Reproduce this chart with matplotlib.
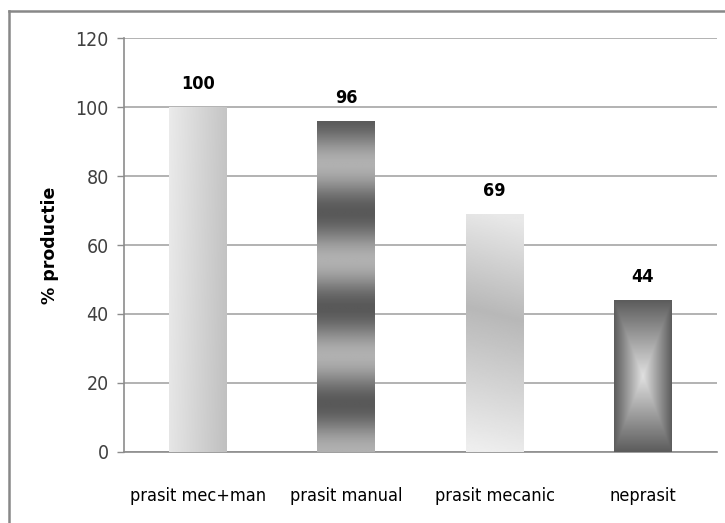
import numpy as np
import matplotlib
matplotlib.use("Agg")
import matplotlib.pyplot as plt
from matplotlib import font_manager
from matplotlib.lines import Line2D

# data
categories = ["prasit mec+man", "prasit manual", "prasit mecanic", "neprasit"]
values = [100, 96, 69, 44]
yticks = [0, 20, 40, 60, 80, 100, 120]

# narrow font similar to Calibri if installed
names = {f.name for f in font_manager.fontManager.ttflist}
narrow = "Liberation Sans Narrow" if "Liberation Sans Narrow" in names else "DejaVu Sans"
stretch = "normal" if narrow == "Liberation Sans Narrow" else "condensed"

fig = plt.figure(figsize=(7.25, 5.23), dpi=100)
ax = fig.add_axes([0.171, 0.136, 0.818, 0.791])

x = np.arange(len(categories))
bars = ax.bar(x, values, width=0.39, color="none", edgecolor="none", zorder=3)


def grad_mecman(n=200):
    u = np.linspace(0, 1, n)[None, :]
    v = np.linspace(0, 1, n)[:, None]   # row 0 = bottom (origin lower)
    return 0.90 - 0.15 * u + 0.02 * v


def grad_manual(n=400):
    v = np.linspace(0, 1, n)[:, None]
    g = 0.52 + 0.17 * np.cos(2 * np.pi * v / 0.29)
    return np.repeat(g, 20, axis=1)


def grad_mecanic(n=300):
    v = np.linspace(0, 1, n)[:, None]
    u = np.linspace(0, 1, 60)[None, :]
    pos = v + 0.06 * (u - 0.5)
    g = np.interp(pos, [0.0, 0.58, 1.0], [0.93, 0.72, 0.91])
    return g


def grad_neprasit(n=300):
    u = np.abs(np.linspace(-1, 1, n))[None, :]
    v = np.abs(np.linspace(-1, 1, n))[:, None]
    d = np.maximum(u, v)
    return 0.88 - 0.52 * d


grads = [grad_mecman(), grad_manual(), grad_mecanic(), grad_neprasit()]
for bar, g in zip(bars, grads):
    x0, w, h = bar.get_x(), bar.get_width(), bar.get_height()
    im = ax.imshow(g, extent=[x0, x0 + w, 0, h], origin="lower", cmap="gray",
                   vmin=0, vmax=1, aspect="auto", interpolation="bilinear", zorder=3)
    im.set_clip_path(bar)

for xi, v in zip(x, values):
    ax.annotate(str(v), (xi, v), xytext=(0, 10), textcoords="offset points",
                ha="center", va="bottom", fontsize=13, fontweight="bold",
                family=narrow, fontstretch=stretch, color="black")

ax.set_xlim(-0.5, len(categories) - 0.5)
ax.set_ylim(0, 120)
ax.set_yticks(yticks)
ax.set_yticklabels([str(t) for t in yticks], family=narrow, fontstretch=stretch,
                   fontsize=14, color="#404040")
ax.set_xticks(x)
ax.set_xticklabels(categories, family=narrow, fontstretch=stretch,
                   fontsize=13, color="black")
ax.tick_params(axis="x", length=0, pad=25)
ax.tick_params(axis="y", length=5, width=1, color="#8c8c8c", pad=6)
ax.yaxis.grid(True, color="#a6a6a6", linewidth=1.2, zorder=0)
ax.set_axisbelow(True)

for s in ["top", "right"]:
    ax.spines[s].set_visible(False)
for s in ["left", "bottom"]:
    ax.spines[s].set_color("#8c8c8c")
    ax.spines[s].set_linewidth(1.2)

ax.set_ylabel("% productie", fontsize=12.5, fontweight="bold", family="DejaVu Sans",
              labelpad=12)

# outer chart frame (only top and left visible in the reference)
fig.add_artist(Line2D([8.5 / 725, 1.0], [1 - 10.5 / 523] * 2, color="#888888",
                      linewidth=1.8, transform=fig.transFigure))
fig.add_artist(Line2D([8.5 / 725] * 2, [0, 1 - 10.5 / 523], color="#888888",
                      linewidth=1.8, transform=fig.transFigure))

fig.savefig("out.png", dpi=100)
